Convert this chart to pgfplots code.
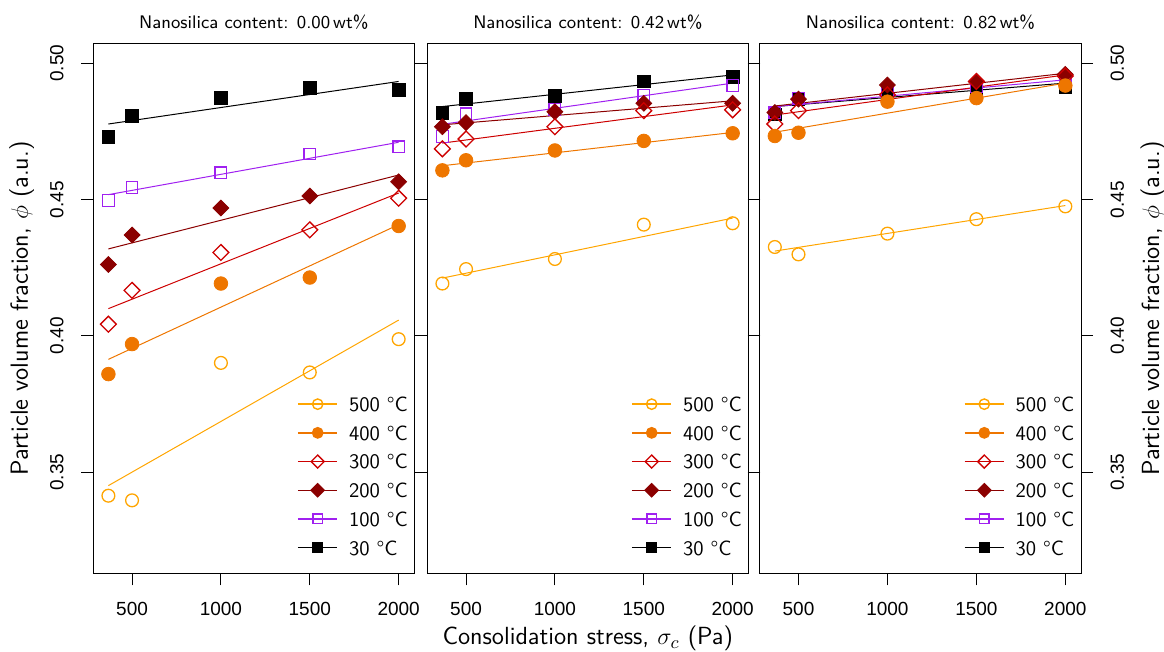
\documentclass[border=0pt]{standalone}
\usepackage{fontspec}
\usepackage{pgfplots}
\pgfplotsset{compat=1.18}
\newfontfamily\tickfont{Liberation Sans}
\definecolor{cA}{HTML}{FFA500}
\definecolor{cB}{HTML}{EE7600}
\definecolor{cC}{HTML}{CD0000}
\definecolor{cD}{HTML}{8B0000}
\definecolor{cE}{HTML}{A020F0}
\pgfplotsset{
  panel/.style={
    scale only axis, width=160.5pt, height=265pt,
    xmin=282, xmax=2088, ymin=0.31295, ymax=0.5073,
    axis line style={line width=0.5pt},
    tick align=outside, major tick length=6pt,
    every tick/.style={line width=0.5pt, black},
    xtick={500,1000,1500,2000}, xticklabels={500,1000,1500,2000},
    ytick={0.35,0.40,0.45,0.50},
    xtick pos=left, ytick pos=both,
    xticklabel shift=5.1pt, yticklabel shift=5.3pt,
    tick label style={font=\tickfont\fontsize{9.5}{11}\selectfont},
    every axis title/.style={at={(axis description cs:0.5,1.0400)}, anchor=center, font=\sffamily\fontsize{9.1}{11}\selectfont},
    legend cell align=left,
    legend style={draw=none, fill=none, at={(axis description cs:0.6355,0.3462)}, anchor=north west,
      inner sep=0pt, outer sep=0pt, font=\sffamily\fontsize{10.3}{12.5}\selectfont,
      nodes={inner xsep=0pt, inner ysep=3.5pt, text height=7.35pt, text depth=0pt},
      /tikz/every odd column/.append style={column sep=5.5pt}},
    legend image code/.code={\draw[mark repeat=2, mark phase=2, ##1] plot coordinates {(0pt,0pt)(9.85pt,0pt)(19.7pt,0pt)};},
  },
  s30/.style={black, only marks, mark=square*, mark size=3.2pt, forget plot},
  s100/.style={cE, only marks, mark=square, mark size=2.9pt, mark options={line width=0.65pt}, forget plot},
  s200/.style={cD, only marks, mark=square*, mark size=2.8pt, mark options={rotate=45}, forget plot},
  s300/.style={cC, only marks, mark=square, mark size=2.8pt, mark options={rotate=45, line width=0.65pt}, forget plot},
  s400/.style={cB, only marks, mark=*, mark size=3.4pt, forget plot},
  s500/.style={cA, only marks, mark=o, mark size=3.2pt, mark options={line width=0.65pt}, forget plot},
  rl/.style={#1, line width=0.5pt, no marks, forget plot},
}
\newcommand{\legendset}{%
  \addlegendimage{cA, line width=0.7pt, mark=o, mark size=2.6pt}
  \addlegendentry{500 °C}
  \addlegendimage{cB, line width=0.7pt, mark=*, mark size=2.6pt}
  \addlegendentry{400 °C}
  \addlegendimage{cC, line width=0.7pt, mark=square, mark size=2.3pt, mark options={rotate=45}}
  \addlegendentry{300 °C}
  \addlegendimage{cD, line width=0.7pt, mark=square*, mark size=2.3pt, mark options={rotate=45}}
  \addlegendentry{200 °C}
  \addlegendimage{cE, line width=0.7pt, mark=square, mark size=2.4pt}
  \addlegendentry{100 °C}
  \addlegendimage{black, line width=0.7pt, mark=square*, mark size=2.4pt}
  \addlegendentry{30 °C}
}
\begin{document}
\begin{tikzpicture}
\useasboundingbox (0,0) rectangle (582pt,326pt);
% ---------------- Panel 1 ----------------
\begin{axis}[panel, at={(46.65pt,39.35pt)}, anchor=south west,
  title={Nanosilica content: 0.00\,wt\%},
  yticklabels={0.35,0.40,0.45,0.50}, yticklabel pos=left,
  yticklabel style={rotate=90, anchor=south},
  ylabel={Particle volume fraction, $\phi$ (a.u.)},
  every axis y label/.style={at={(axis description cs:-0.2231,0.5)}, rotate=90, anchor=center, font=\sffamily\fontsize{12.4}{14}\selectfont},
]
\legendset
\addplot[s30] coordinates {(367,0.4731)(500,0.4808)(1000,0.4874)(1500,0.4908)(2000,0.4902)};
\addplot[rl=black] coordinates {(367,0.4777)(2000,0.4933)};
\addplot[s100] coordinates {(367,0.4496)(500,0.4544)(1000,0.4598)(1500,0.4667)(2000,0.4693)};
\addplot[rl=cE] coordinates {(367,0.4518)(2000,0.4710)};
\addplot[s200] coordinates {(367,0.4262)(500,0.4370)(1000,0.4469)(1500,0.4513)(2000,0.4565)};
\addplot[rl=cD] coordinates {(367,0.4319)(2000,0.4590)};
\addplot[s300] coordinates {(367,0.4043)(500,0.4167)(1000,0.4306)(1500,0.4389)(2000,0.4505)};
\addplot[rl=cC] coordinates {(367,0.4100)(2000,0.4524)};
\addplot[s400] coordinates {(367,0.3860)(500,0.3970)(1000,0.4192)(1500,0.4214)(2000,0.4403)};
\addplot[rl=cB] coordinates {(367,0.3914)(2000,0.4408)};
\addplot[s500] coordinates {(367,0.3414)(500,0.3397)(1000,0.3901)(1500,0.3866)(2000,0.3988)};
\addplot[rl=cA] coordinates {(367,0.3451)(2000,0.4058)};
\end{axis}
% ---------------- Panel 2 ----------------
\begin{axis}[panel, at={(213.65pt,39.35pt)}, anchor=south west,
  title={Nanosilica content: 0.42\,wt\%},
  yticklabels={,,,},
  xlabel={Consolidation stress, $\sigma_c$ (Pa)},
  every axis x label/.style={at={(axis description cs:0.5,-0.13528)}, anchor=base, font=\sffamily\fontsize{12.4}{14}\selectfont},
]
\legendset
\addplot[s30] coordinates {(367,0.4819)(500,0.4869)(1000,0.4880)(1500,0.4933)(2000,0.4951)};
\addplot[rl=black] coordinates {(367,0.4841)(2000,0.4957)};
\addplot[s100] coordinates {(367,0.4731)(500,0.4814)(1000,0.4831)(1500,0.4881)(2000,0.4918)};
\addplot[rl=cE] coordinates {(367,0.4776)(2000,0.4927)};
\addplot[s200] coordinates {(367,0.4767)(500,0.4782)(1000,0.4822)(1500,0.4853)(2000,0.4853)};
\addplot[rl=cD] coordinates {(367,0.4774)(2000,0.4862)};
\addplot[s300] coordinates {(367,0.4686)(500,0.4722)(1000,0.4767)(1500,0.4826)(2000,0.4829)};
\addplot[rl=cC] coordinates {(367,0.4707)(2000,0.4847)};
\addplot[s400] coordinates {(367,0.4607)(500,0.4644)(1000,0.4680)(1500,0.4715)(2000,0.4743)};
\addplot[rl=cB] coordinates {(367,0.4624)(2000,0.4746)};
\addplot[s500] coordinates {(367,0.4192)(500,0.4245)(1000,0.4282)(1500,0.4408)(2000,0.4413)};
\addplot[rl=cA] coordinates {(367,0.4212)(2000,0.4432)};
\end{axis}
% ---------------- Panel 3 ----------------
\begin{axis}[panel, at={(379.85pt,39.35pt)}, anchor=south west, width=160.65pt,
  title={Nanosilica content: 0.82\,wt\%},
  yticklabels={0.35,0.40,0.45,0.50}, yticklabel pos=right,
  yticklabel style={rotate=90, anchor=north},
  ylabel={Particle volume fraction, $\phi$ (a.u.)},
  every axis y label/.style={at={(axis description cs:1.2241,0.5)}, rotate=90, anchor=center, font=\sffamily\fontsize{12.4}{14}\selectfont},
]
\legendset
\addplot[s30] coordinates {(367,0.4812)(500,0.4868)(1000,0.4888)(1500,0.4906)(2000,0.4914)};
\addplot[rl=black] coordinates {(367,0.4841)(2000,0.4927)};
\addplot[s100] coordinates {(367,0.4818)(500,0.4872)(1000,0.4892)(1500,0.4914)(2000,0.4936)};
\addplot[rl=cE] coordinates {(367,0.4841)(2000,0.4939)};
\addplot[s200] coordinates {(367,0.4819)(500,0.4868)(1000,0.4920)(1500,0.4933)(2000,0.4959)};
\addplot[rl=cD] coordinates {(367,0.4843)(2000,0.4963)};
\addplot[s300] coordinates {(367,0.4777)(500,0.4826)(1000,0.4884)(1500,0.4933)(2000,0.4953)};
\addplot[rl=cC] coordinates {(367,0.4810)(2000,0.4957)};
\addplot[s400] coordinates {(367,0.4733)(500,0.4745)(1000,0.4859)(1500,0.4872)(2000,0.4918)};
\addplot[rl=cB] coordinates {(367,0.4747)(2000,0.4927)};
\addplot[s500] coordinates {(367,0.4326)(500,0.4299)(1000,0.4375)(1500,0.4428)(2000,0.4475)};
\addplot[rl=cA] coordinates {(367,0.4311)(2000,0.4478)};
\end{axis}
\end{tikzpicture}
\end{document}
